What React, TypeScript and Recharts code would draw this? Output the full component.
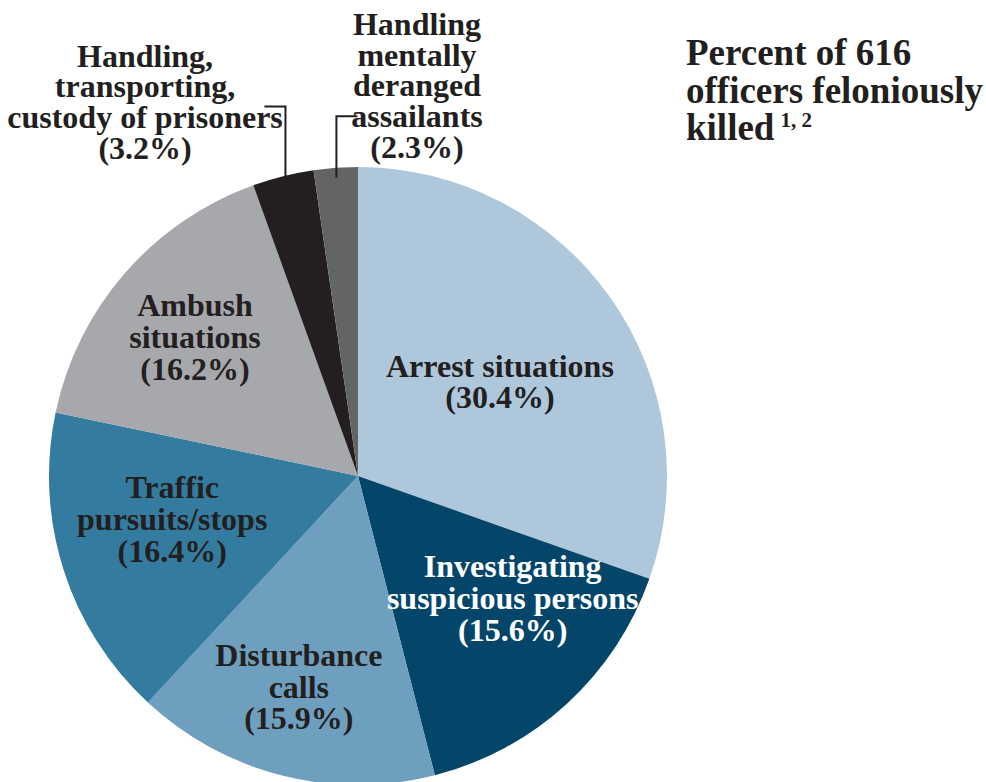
import React from "react";
import { PieChart, Pie, Cell } from "recharts";

const categories = [
  "Arrest situations",
  "Investigating suspicious persons",
  "Disturbance calls",
  "Traffic pursuits/stops",
  "Ambush situations",
  "Handling, transporting, custody of prisoners",
  "Handling mentally deranged assailants",
];
const percents = [30.4, 15.6, 15.9, 16.4, 16.2, 3.2, 2.3];
const labelLines = [
  ["Arrest situations"],
  ["Investigating", "suspicious persons"],
  ["Disturbance", "calls"],
  ["Traffic", "pursuits/stops"],
  ["Ambush", "situations"],
  ["Handling,", "transporting,", "custody of prisoners"],
  ["Handling", "mentally", "deranged", "assailants"],
];
const titleLines = ["Percent of 616", "officers feloniously", "killed"];
const titleSup = "1, 2";

const colors = ["#AFC7DB", "#03466A", "#6F9FBF", "#347C9F", "#A7A8AC", "#231F20", "#636466"];
const textColors = ["#231F20", "#FFFFFF", "#231F20", "#231F20", "#231F20", "#231F20", "#231F20"];
// label placement: fraction of outer radius, angle shift (deg)
const labelRadius = [0.55, 0.64, 0.711, 0.618, 0.691, 1.391, 1.275];
const labelShift = [-1.9, 9.0, -1.4, -4.3, 0.8, 15.66, -12.75];
const outside = [false, false, false, false, false, true, true];

const data = categories.map((name, i) => ({ name, value: percents[i] }));

const FONT = "'Liberation Serif', 'Times New Roman', serif";
const FS = 32;
const RAD = Math.PI / 180;

function polar(cx: number, cy: number, r: number, a: number) {
  return { x: cx + r * Math.cos(-a * RAD), y: cy + r * Math.sin(-a * RAD) };
}

const renderLabel = (props: any) => {
  const { cx, cy, midAngle, outerRadius, index } = props;
  const lines = [...labelLines[index], `(${percents[index].toFixed(1)}%)`];
  const LH = outside[index] ? 30.6 : 31.7;
  const p = polar(cx, cy, outerRadius * labelRadius[index], midAngle + labelShift[index]);
  const n = lines.length;
  const firstBaseline = p.y + 10 - ((n - 1) * LH) / 2;
  const els: any[] = [];
  if (outside[index]) {
    const inner = polar(cx, cy, outerRadius - 10, midAngle);
    const left = index === 5;
    const elbowY = left ? firstBaseline + 1.3 * LH : firstBaseline + 2.65 * LH;
    const endX = left ? inner.x - 21 : inner.x + 21;
    els.push(
      <polyline
        key="ll"
        points={`${inner.x},${inner.y} ${inner.x},${elbowY} ${endX},${elbowY}`}
        fill="none"
        stroke="#231F20"
        strokeWidth={2}
      />
    );
  }
  els.push(
    <text
      key="t"
      x={p.x}
      y={firstBaseline}
      textAnchor="middle"
      fill={textColors[index]}
      fontFamily={FONT}
      fontWeight="bold"
      fontSize={FS}
    >
      {lines.map((l, i) => (
        <tspan key={i} x={p.x} y={firstBaseline + i * LH}>
          {l}
        </tspan>
      ))}
    </text>
  );
  return <g>{els}</g>;
};

export default function App() {
  return (
    <div style={{ position: "absolute", left: 0, top: 0, width: 986, height: 782, background: "#fff", overflow: "hidden" }}>
      <PieChart width={986} height={782} margin={{ top: 0, right: 0, bottom: 0, left: 0 }}>
        <Pie
          data={data}
          dataKey="value"
          nameKey="name"
          cx={358}
          cy={476}
          outerRadius={309}
          startAngle={90}
          endAngle={-270}
          stroke="none"
          label={renderLabel}
          labelLine={false}
          isAnimationActive={false}
        >
          {data.map((d, i) => (
            <Cell key={d.name} fill={colors[i]} />
          ))}
        </Pie>
      </PieChart>
      <svg width={986} height={782} style={{ position: "absolute", left: 0, top: 0, pointerEvents: "none" }}>
        <text x={686} y={65} fontFamily={FONT} fontWeight="bold" fontSize={37} fill="#231F20">
          {titleLines.map((l, i) => (
            <tspan key={i} x={686} y={65 + i * 37.5}>
              {l}
            </tspan>
          ))}
          <tspan dx={6} dy={-13} fontSize={21}>
            {titleSup}
          </tspan>
        </text>
      </svg>
    </div>
  );
}
